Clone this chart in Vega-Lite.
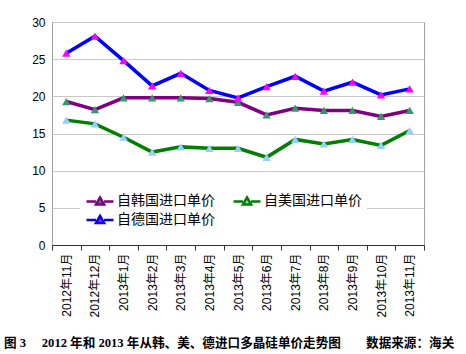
{
  "$schema": "https://vega.github.io/schema/vega-lite/v6.json",
  "width": 372,
  "height": 223,
  "autosize": {"type": "none"},
  "padding": {"left": 52, "top": 22, "right": 42, "bottom": 109},
  "background": "white",
  "title": {
    "text": "图 3\u3000 2012 年和 2013 年从韩、美、德进口多晶硅单价走势图\u3000\u3000数据来源：海关",
    "orient": "bottom",
    "anchor": "start",
    "frame": "group",
    "dx": -48,
    "offset": 20,
    "font": "Liberation Serif, Noto Sans CJK SC",
    "fontSize": 12.6,
    "fontWeight": "bold",
    "color": "black"
  },
  "config": {
    "view": {"stroke": "#a0a0a0", "strokeWidth": 1},
    "font": "Liberation Sans, Noto Sans CJK SC",
    "axis": {"labelColor": "black", "labelFont": "Liberation Sans, Noto Sans CJK SC"}
  },
  "data": {
    "values": [
      {"month": "2012年11月", "series": "自韩国进口单价", "value": 19.3},
      {"month": "2012年12月", "series": "自韩国进口单价", "value": 18.2},
      {"month": "2013年1月", "series": "自韩国进口单价", "value": 19.8},
      {"month": "2013年2月", "series": "自韩国进口单价", "value": 19.8},
      {"month": "2013年3月", "series": "自韩国进口单价", "value": 19.8},
      {"month": "2013年4月", "series": "自韩国进口单价", "value": 19.7},
      {"month": "2013年5月", "series": "自韩国进口单价", "value": 19.2},
      {"month": "2013年6月", "series": "自韩国进口单价", "value": 17.5},
      {"month": "2013年7月", "series": "自韩国进口单价", "value": 18.4},
      {"month": "2013年8月", "series": "自韩国进口单价", "value": 18.1},
      {"month": "2013年9月", "series": "自韩国进口单价", "value": 18.1},
      {"month": "2013年10月", "series": "自韩国进口单价", "value": 17.3},
      {"month": "2013年11月", "series": "自韩国进口单价", "value": 18.1},
      {"month": "2012年11月", "series": "自美国进口单价", "value": 16.8},
      {"month": "2012年12月", "series": "自美国进口单价", "value": 16.3},
      {"month": "2013年1月", "series": "自美国进口单价", "value": 14.5},
      {"month": "2013年2月", "series": "自美国进口单价", "value": 12.5},
      {"month": "2013年3月", "series": "自美国进口单价", "value": 13.2},
      {"month": "2013年4月", "series": "自美国进口单价", "value": 13.0},
      {"month": "2013年5月", "series": "自美国进口单价", "value": 13.0},
      {"month": "2013年6月", "series": "自美国进口单价", "value": 11.8},
      {"month": "2013年7月", "series": "自美国进口单价", "value": 14.2},
      {"month": "2013年8月", "series": "自美国进口单价", "value": 13.6},
      {"month": "2013年9月", "series": "自美国进口单价", "value": 14.2},
      {"month": "2013年10月", "series": "自美国进口单价", "value": 13.4},
      {"month": "2013年11月", "series": "自美国进口单价", "value": 15.4},
      {"month": "2012年11月", "series": "自德国进口单价", "value": 25.8},
      {"month": "2012年12月", "series": "自德国进口单价", "value": 28.1},
      {"month": "2013年1月", "series": "自德国进口单价", "value": 24.8},
      {"month": "2013年2月", "series": "自德国进口单价", "value": 21.4},
      {"month": "2013年3月", "series": "自德国进口单价", "value": 23.1},
      {"month": "2013年4月", "series": "自德国进口单价", "value": 20.8},
      {"month": "2013年5月", "series": "自德国进口单价", "value": 19.8},
      {"month": "2013年6月", "series": "自德国进口单价", "value": 21.3},
      {"month": "2013年7月", "series": "自德国进口单价", "value": 22.7},
      {"month": "2013年8月", "series": "自德国进口单价", "value": 20.7},
      {"month": "2013年9月", "series": "自德国进口单价", "value": 21.9},
      {"month": "2013年10月", "series": "自德国进口单价", "value": 20.2},
      {"month": "2013年11月", "series": "自德国进口单价", "value": 21.0}
    ]
  },
  "encoding": {
    "x": {
      "field": "month",
      "type": "ordinal",
      "sort": null,
      "scale": {"paddingInner": 0, "paddingOuter": 0},
      "axis": {
        "title": null,
        "labelAngle": -90,
        "labelAlign": "right",
        "labelBaseline": "middle",
        "labelFontSize": 12,
        "labelPadding": 3,
        "tickBand": "extent",
        "tickSize": 5,
        "tickColor": "#333333",
        "domainColor": "#333333",
        "grid": false
      }
    },
    "y": {
      "field": "value",
      "type": "quantitative",
      "scale": {"domain": [0, 30], "nice": false},
      "axis": {
        "title": null,
        "values": [0, 5, 10, 15, 20, 25, 30],
        "labelFontSize": 12,
        "labelPadding": 7,
        "ticks": false,
        "domain": false,
        "gridColor": "#c8c8c8",
        "gridWidth": 1
      }
    }
  },
  "layer": [
    {
      "mark": {"type": "line", "strokeWidth": 3.5},
      "encoding": {
        "stroke": {
          "field": "series",
          "type": "nominal",
          "scale": {
            "domain": ["自韩国进口单价", "自美国进口单价", "自德国进口单价"],
            "range": ["#800080", "#008000", "#0000ff"]
          },
          "legend": {
            "title": null,
            "orient": "none",
            "legendX": 28,
            "legendY": 166,
            "direction": "horizontal",
            "columns": 2,
            "columnPadding": 13,
            "rowPadding": 0,
            "fillColor": "white",
            "padding": 5,
            "labelFontSize": 14,
            "labelFont": "Noto Sans CJK SC",
            "labelColor": "black",
            "symbolType": "M-2,0H-0.6M0.6,0H2M0,-0.6L0.6,0.45L-0.6,0.45Z",
            "symbolSize": 182,
            "symbolStrokeWidth": 2.5,
            "symbolOffset": 7,
            "labelOffset": 9
          }
        }
      }
    },
    {
      "mark": {"type": "point", "shape": "triangle-up", "filled": true, "size": 70, "opacity": 1},
      "encoding": {
        "fill": {
          "field": "series",
          "type": "nominal",
          "scale": {
            "domain": ["自韩国进口单价", "自美国进口单价", "自德国进口单价"],
            "range": ["#339966", "#99ccff", "#ff00ff"]
          },
          "legend": {
            "title": null,
            "orient": "none",
            "legendX": 28,
            "legendY": 166,
            "direction": "horizontal",
            "columns": 2,
            "columnPadding": 13,
            "rowPadding": 0,
            "fillColor": "white",
            "padding": 5,
            "labelFontSize": 14,
            "labelFont": "Noto Sans CJK SC",
            "labelColor": "black",
            "symbolType": "M-2,0H-0.6M0.6,0H2M0,-0.6L0.6,0.45L-0.6,0.45Z",
            "symbolSize": 182,
            "symbolStrokeWidth": 2.5,
            "symbolOffset": 7,
            "labelOffset": 9
          }
        }
      }
    }
  ]
}
